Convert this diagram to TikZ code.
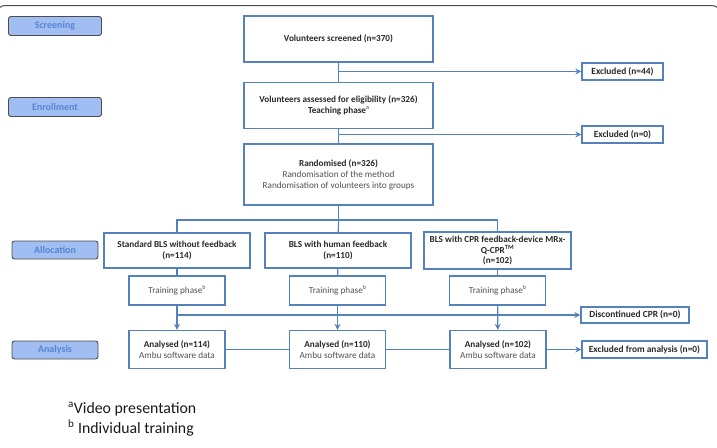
\documentclass[tikz,border=0pt]{standalone}
\usepackage{fontspec}
\setmainfont{Carlito}
\usetikzlibrary{arrows.meta}
\definecolor{boxblue}{RGB}{84,130,190}
\definecolor{labfill}{RGB}{160,190,242}
\definecolor{labtext}{RGB}{88,132,212}
\definecolor{testo}{RGB}{40,40,40}
\definecolor{testochiaro}{RGB}{80,80,80}
\newcommand{\apice}[1]{\raisebox{0.9ex}{\fontsize{6}{6}\selectfont #1}}
\tikzset{
  fase/.style={draw=black!70, fill=labfill, rounded corners=2.5pt, line width=0.9pt,
    minimum width=93pt, minimum height=19pt, inner sep=0pt, text=labtext,
    font=\bfseries\fontsize{10}{12}\selectfont},
  blocco/.style={draw=boxblue, line width=1.3pt, align=center, inner sep=0pt, text=testo,
    font=\fontsize{9.2}{11}\selectfont},
  laterale/.style={blocco, minimum height=17pt, font=\bfseries\fontsize{9.4}{11}\selectfont},
  linea/.style={draw=boxblue, line width=1.2pt},
  freccia/.style={linea, -{Stealth[length=6pt,width=6pt]}},
  nota/.style={anchor=west, inner sep=0pt, text=black!90, font=\fontsize{15.8}{18}\selectfont}
}
\begin{document}
\begin{tikzpicture}[x=1pt,y=-1pt]
        \useasboundingbox (0,0) rectangle (717,447);
        % cornice superiore
        \draw[black!70, line width=1pt, rounded corners=8pt] (-3,30) -- (-3,5.5) -- (720,5.5) -- (720,30);

        % fasi a sinistra
        \node[fase] (scr) at (55,26) {Screening};
        \node[fase] (enr) at (55,107) {Enrollment};
        \node[fase, minimum width=86pt, minimum height=18pt] (all) at (55,250) {Allocation};
        \node[fase, minimum width=86pt, minimum height=18pt] (ana) at (55,350) {Analysis};

        % blocchi centrali
        \node[blocco, minimum width=189pt, minimum height=46pt] (vs) at (338.5,39)
            {\textbf{Volunteers screened (n=370)}};
        \node[blocco, minimum width=189pt, minimum height=46pt] (va) at (338.5,105.5)
            {\textbf{Volunteers assessed for eligibility (n=326)}\\\textbf{Teaching phase}\apice{a}};
        \node[blocco, minimum width=189pt, minimum height=61pt] (rnd) at (338.5,174.5)
            {\textbf{Randomised (n=326)}\\\color{testochiaro}Randomisation of the method\\\color{testochiaro}Randomisation of volunteers into groups};

        % esclusi
        \node[laterale, minimum width=81pt] (ex44) at (622.5,71.5) {Excluded (n=44)};
        \node[laterale, minimum width=81pt] (ex0) at (622.5,134.5) {Excluded (n=0)};

        % gruppi
        \node[blocco, minimum width=146pt, minimum height=35pt, font=\bfseries\fontsize{9.2}{11}\selectfont] (g1) at (177,250.5)
            {Standard BLS without feedback\\(n=114)};
        \node[blocco, minimum width=146pt, minimum height=35pt, font=\bfseries\fontsize{9.2}{11}\selectfont] (g2) at (338,250.5)
            {BLS with human feedback\\(n=110)};
        \node[blocco, minimum width=147pt, minimum height=37pt, font=\bfseries\fontsize{9.2}{10.5}\selectfont] (g3) at (497.5,250.5)
            {BLS with CPR feedback-device MRx-\\Q-CPR\textsuperscript{TM}\\(n=102)};

        % fase di training
        \node[blocco, minimum width=96pt, minimum height=29pt, text=testochiaro] (t1) at (177,290.5) {Training phase\apice{b}};
        \node[blocco, minimum width=96pt, minimum height=29pt, text=testochiaro] (t2) at (337.5,290.5) {Training phase\apice{b}};
        \node[blocco, minimum width=96pt, minimum height=29pt, text=testochiaro] (t3) at (497.5,290.5) {Training phase\apice{b}};
        \node[laterale, minimum width=108pt, minimum height=16pt] (disc) at (635,315) {Discontinued CPR (n=0)};

        % analisi
        \node[blocco, minimum width=96pt, minimum height=38pt] (a1) at (177,349.5)
            {\textbf{Analysed (n=114)}\\\color{testochiaro}Ambu software data};
        \node[blocco, minimum width=96pt, minimum height=38pt] (a2) at (337.5,349.5)
            {\textbf{Analysed (n=110)}\\\color{testochiaro}Ambu software data};
        \node[blocco, minimum width=96pt, minimum height=38pt] (a3) at (498,349.5)
            {\textbf{Analysed (n=102)}\\\color{testochiaro}Ambu software data};
        \node[laterale, minimum width=125pt] (exan) at (644.5,349.5) {Excluded from analysis (n=0)};

        % collegamenti
        \draw[linea] (vs) -- (va);
        \draw[freccia] (vs.south |- ex44) -- (ex44);
        \draw[linea] (va) -- (rnd);
        \draw[freccia] (va.south |- ex0) -- (ex0);
        \coordinate (split) at (338.5,220);
        \draw[linea] (rnd) -- (split);
        \draw[linea] (g1.north) |- (split) -| (g3.north);
        \draw[linea] (split) -- (g2);
        \foreach \i in {1,2,3} {
            \draw[linea] (g\i) -- (t\i);
            \draw[freccia] (t\i) -- (a\i);
        }
        \draw[freccia] (t1.south |- disc) -- (disc);
        \draw[linea] (a1) -- (a2);
        \draw[linea] (a2) -- (a3);
        \draw[freccia] (a3) -- (exan);

        % note
        \node[nota] (na) at (68,409) {\textsuperscript{a}Video presentation};
        \node[nota] (nb) at (68,428) {\textsuperscript{b} Individual training};
    \end{tikzpicture}
\end{document}
